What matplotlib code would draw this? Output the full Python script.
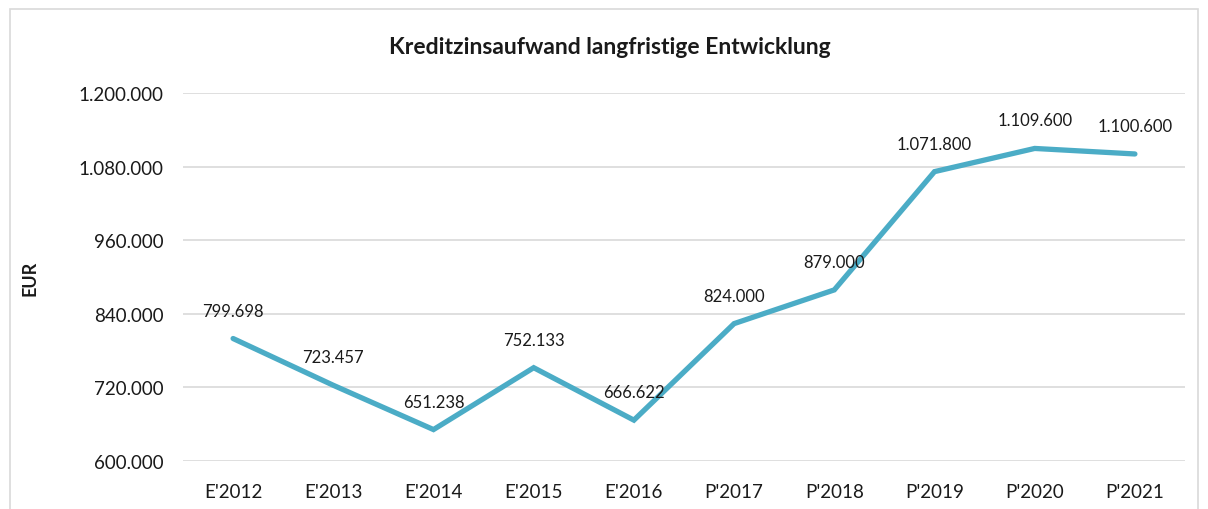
import matplotlib.pyplot as plt
from matplotlib.patches import Rectangle
import matplotlib.ticker as plticker

plt.rcParams['font.family'] = ['Lato', 'DejaVu Sans']

years = ["E'2012", "E'2013", "E'2014", "E'2015", "E'2016",
         "P'2017", "P'2018", "P'2019", "P'2020", "P'2021"]
values = [799698, 723457, 651238, 752133, 666622,
          824000, 879000, 1071800, 1109600, 1100600]
y_ticks = [600000, 720000, 840000, 960000, 1080000, 1200000]


def de_fmt(v, pos=None):
    return f"{int(round(v)):,}".replace(",", ".")


fig = plt.figure(figsize=(12.08, 5.10), dpi=100)
ax = fig.add_axes([183 / 1208, 1 - 462 / 510, (1185 - 183) / 1208, (462 - 94) / 510])

# light chart frame like the Excel chart area
fig.patches.append(Rectangle((10 / 1208, -0.1), 1188 / 1208, 1.1 - 10 / 510,
                             transform=fig.transFigure, fill=False,
                             edgecolor='#D9D9D9', linewidth=1.2))

x = list(range(len(years)))
ax.plot(x, values, color='#4BACC6', linewidth=3.8, solid_capstyle='round',
        solid_joinstyle='miter', zorder=3)

for xi, v in zip(x, values):
    ax.annotate(de_fmt(v), (xi, v), textcoords='offset pixels', xytext=(0, 28),
                ha='center', va='center', fontsize=12, color='#1a1a1a')

ax.set_xlim(-0.5, len(years) - 0.5)
ax.set_ylim(600000, 1200000)
ax.set_yticks(y_ticks)
ax.yaxis.set_major_formatter(plticker.FuncFormatter(de_fmt))
ax.set_xticks(x)
ax.set_xticklabels(years)
ax.tick_params(axis='both', length=0, labelsize=13.5, colors='#1a1a1a')
ax.tick_params(axis='x', pad=16)
ax.tick_params(axis='y', pad=14)
ax.grid(axis='y', color='#D9D9D9', linewidth=1.2)
ax.set_axisbelow(True)
for s in ax.spines.values():
    s.set_visible(False)

fig.text(610 / 1208, 1 - 47 / 510, 'Kreditzinsaufwand langfristige Entwicklung',
         ha='center', va='center', fontsize=16.5, fontweight='bold', color='#1a1a1a')
fig.text(30 / 1208, 1 - 278 / 510, 'EUR', rotation=90, ha='center', va='center',
         fontsize=13, fontweight='bold', color='#1a1a1a')

fig.savefig('out.png', dpi=100)
